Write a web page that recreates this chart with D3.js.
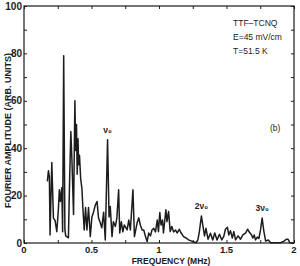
<!DOCTYPE html>
<html><head><meta charset="utf-8">
<script src="https://cdn.jsdelivr.net/npm/d3@7"></script>
<style>html,body{margin:0;padding:0;background:#fff}svg{display:block}</style>
</head><body>
<script>
const freq = [0.173,0.181,0.188,0.193,0.206,0.218,0.230,0.243,0.255,0.262,0.270,0.280,0.286,0.294,0.303,0.309,0.329,0.338,0.347,0.355,0.367,0.377,0.383,0.389,0.394,0.400,0.405,0.411,0.420,0.429,0.436,0.446,0.456,0.466,0.478,0.491,0.503,0.515,0.528,0.541,0.552,0.565,0.576,0.590,0.602,0.619,0.630,0.639,0.652,0.662,0.677,0.688,0.701,0.709,0.721,0.732,0.743,0.764,0.776,0.788,0.807,0.818,0.838,0.850,0.862,0.875,0.887,0.900,0.912,0.924,0.937,0.948,0.961,0.974,0.987,0.996,1.006,1.015,1.026,1.033,1.051,1.059,1.071,1.083,1.095,1.108,1.123,1.134,1.150,1.164,1.182,1.201,1.219,1.242,1.274,1.288,1.299,1.314,1.326,1.337,1.348,1.363,1.381,1.398,1.413,1.430,1.448,1.465,1.480,1.492,1.507,1.517,1.529,1.543,1.554,1.567,1.586,1.604,1.621,1.641,1.656,1.671,1.686,1.695,1.705,1.715,1.728,1.740,1.752,1.764,1.777,1.790,1.809,1.827,1.864,1.901,1.926,1.943,1.955,1.970,2.0];
const amplitude = [26,30.5,28,3.4,34,10.5,9.5,4.8,14.4,22.5,17.5,23.3,4.7,79,5.5,3,2.2,27,47,35,12,60,39,50,29,44,33,37,27,23,15,5.5,15,5.5,15,2.7,11,13,16,17.5,10.6,8.5,6.4,13,1.3,43.6,11,15.4,2.7,9,7,10.6,22.5,4.2,9,4.7,7.6,5.5,9.7,5.5,22.5,2.7,8.5,10.6,7.6,5.5,5.5,2.7,0.6,4.2,3,5.5,6.2,4.7,9.7,4.8,12.9,7.6,9.7,4.2,14,9,13.3,4.8,7,4.7,5.5,4.2,5.8,4.2,2.7,2.1,1.3,0.8,0.1,1.3,4.8,11.4,7,3,6.2,1.6,4.1,1.3,4.2,1.3,3.7,1.3,2.8,5.8,6.6,3.4,5.2,2.1,4.8,1.3,3,1.6,3.4,4.2,5.8,4.4,3.4,2.1,3.4,1.3,2.5,1.9,5.5,10.5,4.8,0.8,1.3,0.1,0.1,0.1,0.8,1.6,1.6,0.1,0];
const yTicks = [0,20,40,60,80,100];
const yTickLabels = ["0","20","40","60","80","100"];
const xTicks = [0,0.5,1,1.5,2];
const xTickLabels = ["0","0.5","1","1.5","2"];
const harmonics = [{f:0.619, v:43.6, label:"ν₀"},{f:1.314, v:11.4, label:"2ν₀"},{f:1.764, v:10.5, label:"3ν₀"}];
const infoLines = ["TTF–TCNQ","E=45 mV/cm","T=51.5 K"];

const W=300,H=266;
const L=24,R=294,T=6,B=243;
const svg=d3.select("body").append("svg").attr("width",W).attr("height",H);
const x=d3.scaleLinear().domain([0,2]).range([L,R]);
const y=d3.scaleLinear().domain([0,100]).range([B,T]);
const ink="#1c1c1c";
const font="'Liberation Sans', Arial, sans-serif";

// frame
svg.append("rect").attr("x",L).attr("y",T).attr("width",R-L).attr("height",B-T)
  .attr("fill","none").attr("stroke",ink).attr("stroke-width",1.2);

// ticks
const minorX=d3.range(0,2.001,0.25), minorY=d3.range(0,100.1,10);
const axB=d3.axisBottom(x).tickValues(minorX).tickSize(-3).tickFormat("");
const axT=d3.axisTop(x).tickValues(minorX).tickSize(-3).tickFormat("");
const axL=d3.axisLeft(y).tickValues(minorY).tickSize(-3).tickFormat("");
const axR=d3.axisRight(y).tickValues(minorY).tickSize(-3).tickFormat("");
[[axB,`translate(0,${B})`],[axT,`translate(0,${T})`],[axL,`translate(${L},0)`],[axR,`translate(${R},0)`]].forEach(([a,t])=>{
  const g=svg.append("g").attr("transform",t).call(a);
  g.select(".domain").remove();
  g.selectAll("line").attr("stroke",ink).attr("stroke-width",1);
});

// tick labels
svg.append("g").selectAll("text").data(yTicks).join("text")
  .attr("x",L-2).attr("y",d=>y(d)+3.5).attr("text-anchor","end")
  .attr("font-family",font).attr("font-weight","bold").attr("font-size",10).attr("fill",ink)
  .text((d,i)=>yTickLabels[i]);
svg.append("g").selectAll("text").data(xTicks).join("text")
  .attr("x",d=>x(d)).attr("y",B+10).attr("text-anchor","middle")
  .attr("font-family",font).attr("font-weight","bold").attr("font-size",9.5).attr("fill",ink)
  .text((d,i)=>xTickLabels[i]);

// axis titles
svg.append("text").attr("transform",`translate(11,${(T+B)/2+6}) rotate(-90)`)
  .attr("text-anchor","middle").attr("font-family",font).attr("font-weight","bold")
  .attr("font-size",9).attr("fill",ink).text("FOURIER AMPLITUDE (ARB. UNITS)");
svg.append("text").attr("x",171).attr("y",264).attr("text-anchor","middle")
  .attr("font-family",font).attr("font-weight","bold").attr("font-size",8.5).attr("fill",ink)
  .text("FREQUENCY (MHz)");

// curve
const pts=freq.map((f,i)=>[f,amplitude[i]]);
svg.append("path").datum(pts)
  .attr("d",d3.line().x(d=>x(d[0])).y(d=>y(d[1])))
  .attr("fill","none").attr("stroke",ink).attr("stroke-width",1.5).attr("stroke-linejoin","round");

// harmonic labels
svg.append("g").selectAll("text").data(harmonics).join("text")
  .attr("x",d=>x(d.f)).attr("y",d=>y(d.v)-7).attr("text-anchor","middle")
  .attr("font-family",font).attr("font-weight","bold").attr("font-size",8.5).attr("fill",ink)
  .text(d=>d.label);

// info text
svg.append("g").selectAll("text").data(infoLines).join("text")
  .attr("x",233).attr("y",(d,i)=>26+i*14)
  .attr("font-family",font).attr("font-size",8.5).attr("fill",ink)
  .text(d=>d);
svg.append("text").attr("x",270).attr("y",131).attr("font-family",font)
  .attr("font-size",8.5).attr("fill",ink).text("(b)");
</script>
</body></html>
